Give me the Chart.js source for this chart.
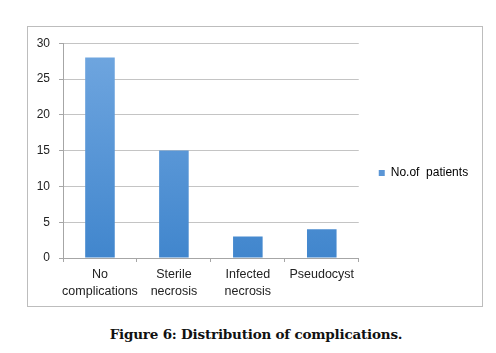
<!DOCTYPE html>
<html>
<head>
<meta charset="utf-8">
<script src="https://cdn.jsdelivr.net/npm/chart.js@4"></script>
<style>
  html, body { margin: 0; padding: 0; background: #fff; }
  body { width: 496px; height: 353px; position: relative; overflow: hidden; }
  #box {
    position: absolute; left: 27px; top: 26px;
    width: 454px; height: 279px;
    border: 1px solid #bdbdbd;
  }
  #box canvas { display: block; }
  #caption {
    position: absolute; left: 0; width: 512px; top: 326px;
    text-align: center;
    font: bold 13.5px "DejaVu Serif", "Liberation Serif", serif;
    color: #111;
    letter-spacing: -0.2px;
  }
</style>
</head>
<body>
<div id="box"><canvas id="chart" width="454" height="279"></canvas></div>
<div id="caption">Figure 6: Distribution of complications.</div>
<script>
const categories = [['No', 'complications'], ['Sterile', 'necrosis'], ['Infected', 'necrosis'], 'Pseudocyst'];
const patients = [28, 15, 3, 4];
const yTicks = [0, 5, 10, 15, 20, 25, 30];

document.addEventListener('DOMContentLoaded', function () {
    const ctx = document.getElementById('chart').getContext('2d');

    // vertical gradient like the Excel bars
    function barFill(context) {
        const area = context.chart.chartArea;
        if (!area) return '#5b96d6';
        const g = context.chart.ctx.createLinearGradient(0, area.top, 0, area.bottom);
        g.addColorStop(0, '#71a7e0');
        g.addColorStop(1, '#4186cd');
        return g;
    }

    new Chart(ctx, {
        type: 'bar',
        data: {
            labels: categories,
            datasets: [{
                label: 'No.of  patients',
                data: patients,
                backgroundColor: barFill,
                borderWidth: 0,
                barPercentage: 0.4,
                categoryPercentage: 1
            }]
        },
        options: {
            responsive: false,
            animation: false,
            layout: { padding: { top: 13, right: 13, left: 0, bottom: 0 } },
            plugins: {
                legend: {
                    display: true,
                    position: 'right',
                    labels: {
                        boxWidth: 6,
                        boxHeight: 6,
                        padding: 20,
                        color: '#222',
                        font: { family: 'Liberation Sans, Arial', size: 12 },
                        generateLabels: function (chart) {
                            return [{
                                text: chart.data.datasets[0].label,
                                fillStyle: '#5b96d6',
                                strokeStyle: '#5b96d6',
                                lineWidth: 0,
                                datasetIndex: 0
                            }];
                        }
                    }
                },
                tooltip: { enabled: false }
            },
            scales: {
                x: {
                    offset: true,
                    afterFit: function (s) { s.height = 48; },
                    grid: {
                        display: true,
                        offset: true,
                        drawOnChartArea: false,
                        drawTicks: true,
                        tickLength: 4,
                        color: '#a6a6a6'
                    },
                    border: { color: '#a6a6a6' },
                    ticks: {
                        padding: 4,
                        maxRotation: 0,
                        autoSkip: false,
                        color: '#222',
                        font: { family: 'Liberation Sans, Arial', size: 12.5, lineHeight: 1.36 }
                    }
                },
                y: {
                    min: 0,
                    max: 30,
                    afterFit: function (s) { s.width = 35; },
                    afterBuildTicks: function (s) { s.ticks = yTicks.map(v => ({ value: v })); },
                    grid: {
                        color: '#c4c4c4',
                        drawTicks: true,
                        tickLength: 4,
                        tickColor: '#a6a6a6'
                    },
                    border: { color: '#a6a6a6' },
                    ticks: {
                        padding: 9,
                        color: '#222',
                        font: { family: 'Liberation Sans, Arial', size: 12 }
                    }
                }
            }
        }
    });
});
</script>
</body>
</html>
